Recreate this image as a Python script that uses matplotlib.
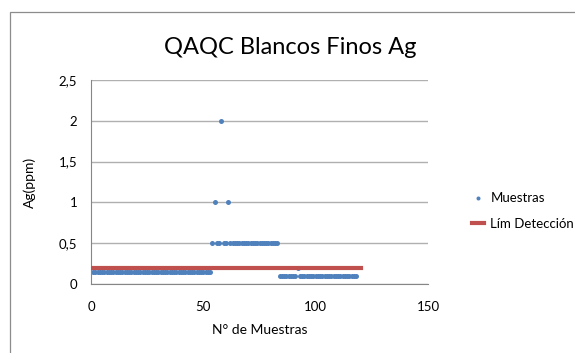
import numpy as np
import matplotlib.pyplot as plt
from matplotlib.patches import Rectangle

plt.rcParams['font.family'] = ['Lato', 'DejaVu Sans']

# Ag results for each blank sample, grouped in runs of equal value
run_values = [0.15, 0.5, 1.0, 0.5, 0.5, 2.0, 0.5, 0.5, 1.0, 0.5, 0.1, 0.2, 0.1]
run_lengths = [53, 1, 1, 1, 1, 1, 1, 1, 1, 22, 8, 1, 26]
ag_ppm = np.repeat(run_values, run_lengths)
sample_no = np.arange(1, len(ag_ppm) + 1)

# detection limit
lim_x = [0, 120]
lim_y = [0.2, 0.2]

x_ticks = [0, 50, 100, 150]
y_ticks = [0, 0.5, 1, 1.5, 2, 2.5]
y_labels = ['0', '0,5', '1', '1,5', '2', '2,5']

blue = '#4F81BD'
red = '#C0504D'
grid = '#B0B0B0'

fig = plt.figure(figsize=(5.75, 3.53), dpi=100)
fig.patches.append(Rectangle((10 / 575, -0.1), 1.2, 1 - 12 / 353 + 0.1,
                             transform=fig.transFigure, fill=False,
                             edgecolor='#8C8C8C', linewidth=0.9))

ax = fig.add_axes([91 / 575, 1 - 284 / 353, (428 - 91) / 575, (284 - 80) / 353])
ax.plot(sample_no, ag_ppm, linestyle='none', marker='o', markersize=3.6,
        color=blue, markeredgewidth=0, label='Muestras', zorder=2)
ax.plot(lim_x, lim_y, color=red, linewidth=3.0, solid_capstyle='projecting',
        label='Lím Detección', zorder=3)

ax.set_xlim(0, 150)
ax.set_ylim(0, 2.5)
ax.set_xticks(x_ticks)
ax.set_yticks(y_ticks)
ax.set_yticklabels(y_labels)
ax.tick_params(length=0, labelsize=9.5)
ax.tick_params(axis='x', pad=12)
ax.tick_params(axis='y', pad=10)
ax.yaxis.grid(True, color=grid, linewidth=1.0)
ax.set_axisbelow(True)
for side in ['top', 'right']:
    ax.spines[side].set_visible(False)
ax.spines['left'].set_color('#868686')
ax.spines['bottom'].set_color('#868686')

ax.set_xlabel('N° de Muestras', fontsize=10, labelpad=8)
ax.set_ylabel('Ag(ppm)', fontsize=10, labelpad=16)
fig.text(0.505, 1 - 47 / 353, 'QAQC Blancos Finos Ag', fontsize=17,
         ha='center', va='center')

handles, labels = ax.get_legend_handles_labels()
fig.legend(handles, labels, loc='center left',
           bbox_to_anchor=(460 / 575, 1 - 211 / 353), frameon=False,
           fontsize=9.5, handlelength=0.9, handletextpad=0.5, labelspacing=1.0,
           markerscale=0.8)

fig.savefig('out.png', dpi=100)
